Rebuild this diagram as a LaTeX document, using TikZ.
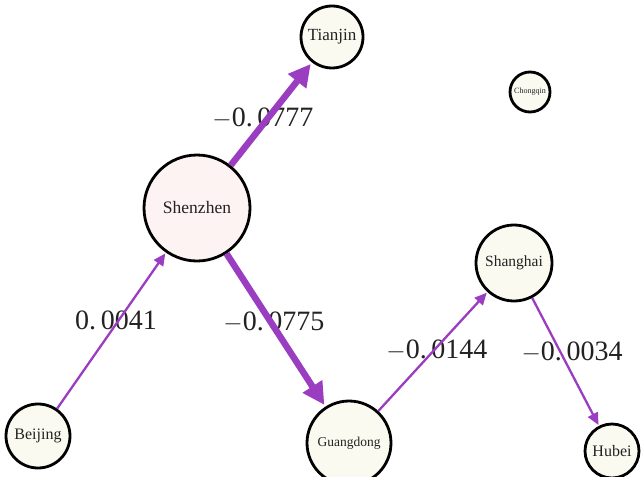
\documentclass[tikz,border=0pt]{standalone}
\usepackage{fontspec}
\setmainfont{Liberation Serif}
\usetikzlibrary{arrows.meta}
\definecolor{edgec}{HTML}{9A3DC0}
\definecolor{nodefill}{HTML}{FAFAF0}
\definecolor{szfill}{HTML}{FDF3F3}
\definecolor{txt}{HTML}{222222}
\tikzset{
  city/.style={circle, draw=black, line width=2.8pt, fill=nodefill, inner sep=0pt, text=txt},
  wlabel/.style={font=\fontsize{28}{31}\selectfont, inner sep=0pt, text=txt},
  thinedge/.style={draw=edgec, line width=2.3pt, -{Triangle[length=12pt,width=11pt]}, shorten >=1pt},
  thickedge/.style={draw=edgec, line width=6.5pt, -{Triangle[length=22pt,width=22pt]}, shorten >=2pt}
}
\begin{document}
\begin{tikzpicture}[x=1pt,y=-1pt]
\useasboundingbox (0,0) rectangle (644,476);
% labels first (edges are drawn over them)
\node[wlabel] (l1) at (263,118) {$-$0.\,0777};
\node[wlabel] (l2) at (116,320) {0.\,0041};
\node[wlabel] (l3) at (274,322) {$-$0.\,0775};
\node[wlabel] (l4) at (437,350) {$-$0.\,0144};
\node[wlabel] (l5) at (572,352) {$-$0.\,0034};
% nodes
\node[city, minimum size=62pt, font=\fontsize{17}{19}\selectfont] (tj) at (332,37) {Tianjin};
\node[city, minimum size=40pt, font=\fontsize{8}{9}\selectfont] (cq) at (530,92) {Chongqin};
\node[city, minimum size=106pt, fill=szfill, font=\fontsize{17.5}{19}\selectfont] (sz) at (197,208) {Shenzhen};
\node[city, minimum size=76pt, font=\fontsize{15.5}{17}\selectfont] (sh) at (514,263) {Shanghai};
\node[city, minimum size=64pt, font=\fontsize{16}{18}\selectfont] (bj) at (38,436) {Beijing};
\node[city, minimum size=84pt, font=\fontsize{13.5}{15}\selectfont] (gd) at (349,443) {Guangdong};
\node[city, minimum size=54pt, font=\fontsize{16}{18}\selectfont] (hb) at (612,451) {Hubei};
% edges
\draw[thinedge] (bj) -- (sz);
\draw[thickedge] (sz) -- (tj);
\draw[thickedge] (sz) -- (gd);
\draw[thinedge] (gd) -- (sh);
\draw[thinedge] (sh) -- (hb);
\end{tikzpicture}
\end{document}
